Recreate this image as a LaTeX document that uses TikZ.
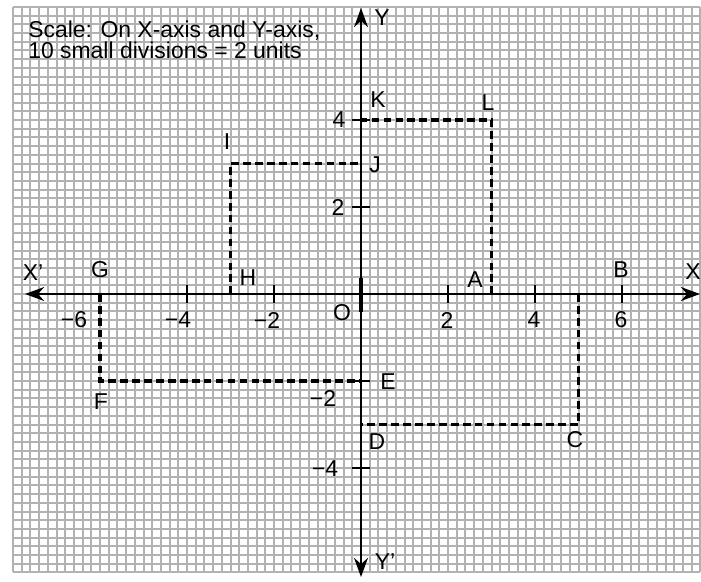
\documentclass[tikz,border=0pt]{standalone}
\usepackage{fontspec}
\setmainfont{Liberation Sans}
\usetikzlibrary{arrows.meta}
\definecolor{gridgray}{RGB}{178,178,178}
\begin{document}
\begin{tikzpicture}[
  lbl/.style={font=\fontsize{15}{18}\selectfont, inner sep=0pt, text=black},
  axisline/.style={line width=1.3pt, black},
  tickline/.style={line width=1.3pt, black},
  dashline/.style={line width=2.4pt, black, dash pattern=on 5pt off 2.8pt},
  gridline/.style={line width=1.3pt, draw=gridgray},
  tip/.style={Stealth[length=4.4mm,width=3.2mm]}
]
\useasboundingbox (-8.299,-6.598) rectangle (7.816,6.759);
\fill[white] (-8.299,-6.598) rectangle (7.816,6.759);
\draw[gridline] (-8,-6.4) grid[step=0.2] (7.8,6.6);

% points
\coordinate (A) at (3,0);
\coordinate (B) at (6,0);
\coordinate (C) at (5,-3);
\coordinate (Cx) at (5,0);
\coordinate (D) at (0,-3);
\coordinate (E) at (0,-2);
\coordinate (F) at (-6,-2);
\coordinate (G) at (-6,0);
\coordinate (H) at (-3,0);
\coordinate (I) at (-3,3);
\coordinate (J) at (0,3);
\coordinate (K) at (0,4);
\coordinate (L) at (3,4);

% dashed rectangles
\draw[dashline] (A) -- (L) -- (K);
\draw[dashline] (H) -- (I) -- (J);
\draw[dashline] (G) -- (F) -- (E);
\draw[dashline] (Cx) -- (C) -- (D);

% axes
\coordinate (Xl) at (-7.724,0);
\coordinate (Xr) at (7.793,0);
\coordinate (Yt) at (0,6.575);
\coordinate (Yb) at (0,-6.506);
\draw[axisline, {Stealth[length=4.4mm,width=3.2mm]}-{Stealth[length=4.4mm,width=3.2mm]}] (Xl) -- (Xr);
\draw[axisline, {Stealth[length=4.4mm,width=3.2mm]}-{Stealth[length=4.4mm,width=3.2mm]}] (Yb) -- (Yt);
\coordinate (Ot) at (0,0.368);
\coordinate (Ob) at (0,-0.414);
\draw[line width=2.4pt] (Ot) -- (Ob);

% ticks on x axis
\foreach \x in {-4,-2,2,4,6} {
  \draw[tickline] (\x,-0.2) -- (\x,0.2);
}
% ticks on y axis
\foreach \y in {-4,-2,2,4} {
  \draw[tickline] (-0.2,\y) -- (0.2,\y);
}

% scale text
\node[lbl, anchor=base west] (scale1) at (-7.655,5.908) {Scale: On X-axis and Y-axis,};
\node[lbl, anchor=base west] (scale2) at (-7.655,5.425) {10 small divisions = 2 units};

% axis labels
\node[lbl] (lY) at (0.483,6.345) {Y};
\node[lbl] (lYp) at (0.552,-6.161) {Y’};
\node[lbl] (lX) at (7.632,0.506) {X};
\node[lbl] (lXp) at (-7.540,0.483) {X’};
\node[lbl] (lO) at (-0.437,-0.437) {O};

% tick labels x
\node[lbl] (tm6) at (-6.598,-0.598) {−6};
\node[lbl] (tm4) at (-4.207,-0.598) {−4};
\node[lbl] (tm2) at (-2.161,-0.598) {−2};
\node[lbl] (tp2) at (1.977,-0.598) {2};
\node[lbl] (tp4) at (3.977,-0.598) {4};
\node[lbl] (tp6) at (5.977,-0.598) {6};

% tick labels y
\node[lbl] (ty4) at (-0.506,4.0) {4};
\node[lbl] (ty2) at (-0.529,2.0) {2};
\node[lbl] (tym2) at (-0.874,-2.391) {−2};
\node[lbl] (tym4) at (-0.828,-4.023) {−4};

% point labels
\node[lbl] (lA) at (2.621,0.322) {A};
\node[lbl] (lB) at (5.977,0.552) {B};
\node[lbl] (lC) at (4.920,-3.356) {C};
\node[lbl] (lD) at (0.368,-3.402) {D};
\node[lbl] (lE) at (0.621,-2.023) {E};
\node[lbl] (lF) at (-5.977,-2.483) {F};
\node[lbl] (lG) at (-6.0,0.552) {G};
\node[lbl] (lH) at (-2.598,0.368) {H};
\node[lbl] (lI) at (-3.080,3.494) {I};
\node[lbl] (lJ) at (0.322,2.966) {J};
\node[lbl] (lK) at (0.391,4.460) {K};
\node[lbl] (lL) at (2.920,4.391) {L};
\end{tikzpicture}
\end{document}
